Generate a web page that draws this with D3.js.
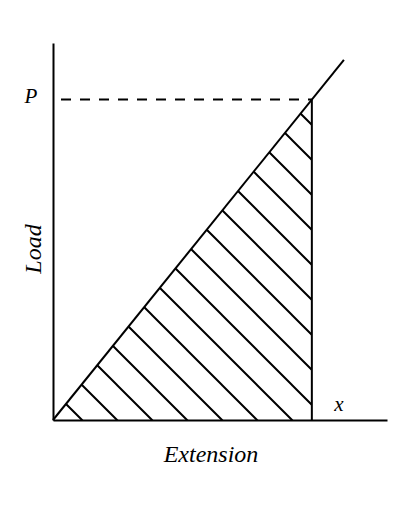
<!DOCTYPE html>
<html>
<head>
<meta charset="utf-8">
<script src="https://cdn.jsdelivr.net/npm/d3@7"></script>
<style>
  body { margin: 0; background: #fff; }
  text { font-family: "Liberation Serif", serif; font-style: italic; fill: #000; }
</style>
</head>
<body>
<div id="chart"></div>
<script>
// load-extension graph, shaded area = work done (energy stored)

// the straight line through the origin
var extension = [0, 8.71],
    load = [0, 9.55];

// the marked point on the line
var pointX = 7.75,
    pointP = 8.5;

var xLabel = "Extension",
    yLabel = "Load",
    pLabel = "P",
    eLabel = "x";

var width = 400,
    height = 518;

var x = d3.scaleLinear().domain([0, 10]).range([53, 387]);
var y = d3.scaleLinear().domain([0, 10]).range([420, 43]);

var svg = d3.select("#chart").append("svg")
    .attr("width", width)
    .attr("height", height);

// hatch pattern, 45 degree lines
var defs = svg.append("defs");
var hatch = defs.append("pattern")
    .attr("id", "hatch")
    .attr("patternUnits", "userSpaceOnUse")
    .attr("x", 12)
    .attr("y", 0)
    .attr("width", 35)
    .attr("height", 35);
hatch.append("path")
    .attr("d", "M-5,-5L40,40M-5,30L5,40M30,-5L40,5")
    .attr("stroke", "#000")
    .attr("stroke-width", 2);

// shaded triangle under the line up to P
var tri = [[0, 0], [pointX, pointP], [pointX, 0]];
svg.append("path")
    .attr("d", d3.line().x(function(d) { return x(d[0]); }).y(function(d) { return y(d[1]); })(tri) + "Z")
    .attr("fill", "url(#hatch)")
    .attr("stroke", "none");

// axes, no ticks
svg.append("g")
    .attr("transform", "translate(0," + y(0) + ")")
    .call(d3.axisBottom(x).tickValues([]).tickSizeOuter(0))
    .select(".domain").attr("stroke", "#000").attr("stroke-width", 2);
svg.append("g")
    .attr("transform", "translate(" + x(0) + ",0)")
    .call(d3.axisLeft(y).tickValues([]).tickSizeOuter(0))
    .select(".domain").attr("stroke", "#000").attr("stroke-width", 2);

// dashed line from load axis to P
svg.append("line")
    .attr("x1", x(0) + 8).attr("x2", x(pointX))
    .attr("y1", y(pointP)).attr("y2", y(pointP))
    .attr("stroke", "#000")
    .attr("stroke-width", 2)
    .attr("stroke-dasharray", "10,9");

// vertical from P down to the extension axis
svg.append("line")
    .attr("x1", x(pointX)).attr("x2", x(pointX))
    .attr("y1", y(pointP)).attr("y2", y(0))
    .attr("stroke", "#000")
    .attr("stroke-width", 2);

// the load-extension line
svg.append("path")
    .datum(d3.zip(extension, load))
    .attr("d", d3.line().x(function(d) { return x(d[0]); }).y(function(d) { return y(d[1]); }))
    .attr("fill", "none")
    .attr("stroke", "#000")
    .attr("stroke-width", 2);

// labels
svg.append("text")
    .attr("x", 31).attr("y", y(pointP) + 3)
    .attr("text-anchor", "middle")
    .style("font-size", "21px")
    .text(pLabel);

svg.append("text")
    .attr("x", x(pointX) + 27).attr("y", 411)
    .attr("text-anchor", "middle")
    .style("font-size", "21px")
    .text(eLabel);

svg.append("text")
    .attr("x", 211).attr("y", 462)
    .attr("text-anchor", "middle")
    .style("font-size", "24px")
    .text(xLabel);

svg.append("text")
    .attr("transform", "translate(41,249) rotate(-90)")
    .attr("text-anchor", "middle")
    .style("font-size", "24px")
    .text(yLabel);
</script>
</body>
</html>
